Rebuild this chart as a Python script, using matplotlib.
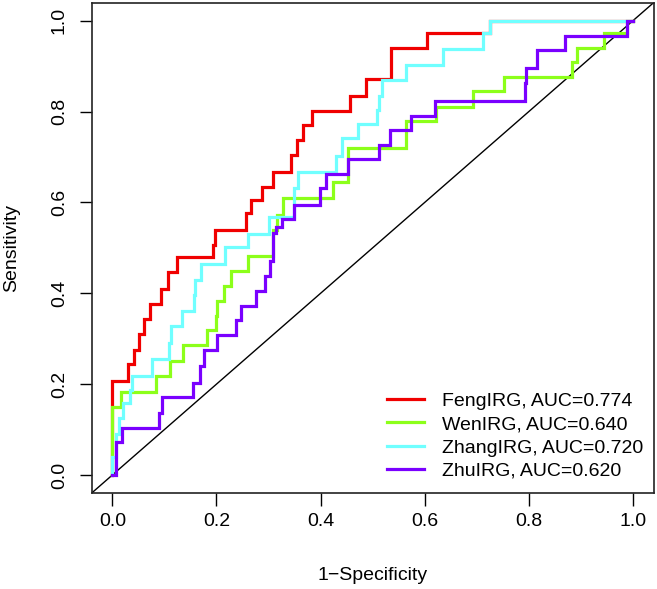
import matplotlib
matplotlib.use("Agg")
import matplotlib.pyplot as plt

plt.rcParams['font.family'] = ['Liberation Sans', 'DejaVu Sans']

# ---- data (vertices of the ROC staircases: at fpr[i] the curve rises to tpr[i]) ----
feng_fpr = [0, 0, 0.030, 0.042, 0.052, 0.061, 0.073, 0.094, 0.106, 0.125,
            0.193, 0.197, 0.257, 0.266, 0.287, 0.308, 0.343, 0.355, 0.366, 0.383,
            0.457, 0.487, 0.535, 0.604, 0.725, 1.0]
feng_tpr = [0, 0.208, 0.244, 0.275, 0.310, 0.343, 0.376, 0.410, 0.447, 0.479,
            0.506, 0.539, 0.576, 0.605, 0.635, 0.668, 0.704, 0.737, 0.770, 0.801,
            0.835, 0.872, 0.939, 0.972, 1.0, 1.0]

wen_fpr = [0, 0, 0.016, 0.083, 0.111, 0.136, 0.181, 0.199, 0.202, 0.215,
           0.227, 0.261, 0.308, 0.316, 0.327, 0.424, 0.453, 0.565, 0.622, 0.692,
           0.752, 0.882, 0.893, 0.944, 0.988, 1.0]
wen_tpr = [0, 0.150, 0.183, 0.219, 0.252, 0.286, 0.319, 0.350, 0.382, 0.415,
           0.449, 0.481, 0.539, 0.572, 0.609, 0.646, 0.719, 0.780, 0.809, 0.846,
           0.875, 0.908, 0.939, 0.972, 1.0, 1.0]

zhang_fpr = [0, 0, 0.008, 0.013, 0.021, 0.034, 0.038, 0.077, 0.109, 0.113,
             0.133, 0.156, 0.159, 0.170, 0.216, 0.261, 0.300, 0.349, 0.357, 0.430,
             0.442, 0.471, 0.509, 0.513, 0.517, 0.564, 0.636, 0.711, 0.725, 1.0]
zhang_tpr = [0, 0.040, 0.090, 0.125, 0.158, 0.187, 0.219, 0.255, 0.290, 0.328,
             0.360, 0.396, 0.429, 0.464, 0.501, 0.531, 0.567, 0.631, 0.668, 0.703,
             0.741, 0.773, 0.803, 0.835, 0.870, 0.903, 0.938, 0.972, 1.0, 1.0]

zhu_fpr = [0, 0.008, 0.018, 0.090, 0.095, 0.154, 0.168, 0.177, 0.201, 0.237,
           0.247, 0.276, 0.293, 0.303, 0.308, 0.314, 0.325, 0.348, 0.399, 0.410,
           0.452, 0.513, 0.533, 0.574, 0.620, 0.793, 0.795, 0.816, 0.869, 0.989, 1.0]
zhu_tpr = [0, 0.072, 0.103, 0.136, 0.171, 0.202, 0.240, 0.275, 0.308, 0.341,
           0.372, 0.404, 0.437, 0.470, 0.532, 0.545, 0.564, 0.594, 0.631, 0.663,
           0.695, 0.726, 0.759, 0.791, 0.824, 0.862, 0.895, 0.936, 0.966, 1.0, 1.0]

labels = ["FengIRG, AUC=0.774", "WenIRG, AUC=0.640",
          "ZhangIRG, AUC=0.720", "ZhuIRG, AUC=0.620"]
colors = ["#F00000", "#8CFF1A", "#70FFFF", "#7A00FF"]
ticks = [0.0, 0.2, 0.4, 0.6, 0.8, 1.0]
tick_labels = ["0.0", "0.2", "0.4", "0.6", "0.8", "1.0"]

W, H = 657, 589
fig = plt.figure(figsize=(W / 100, H / 100), dpi=100)
ax = fig.add_axes([91.5 / W, (H - 493.2) / H, (653.8 - 91.5) / W, (493.2 - 2.5) / H])

ax.set_xlim(-0.04, 1.04)
ax.set_ylim(-0.04, 1.04)

# diagonal reference line
ax.axline((0, 0), (1, 1), color="black", lw=1.0, zorder=1)

series = [(feng_fpr, feng_tpr), (wen_fpr, wen_tpr),
          (zhang_fpr, zhang_tpr), (zhu_fpr, zhu_tpr)]
for (fx, fy), c, lab in zip(series, colors, labels):
    ax.plot(fx, fy, drawstyle="steps-post", color=c, lw=2.3, label=lab,
            solid_joinstyle="miter", zorder=2)

ax.set_xticks(ticks)
ax.set_xticklabels(tick_labels)
ax.set_yticks(ticks)
ax.set_yticklabels(tick_labels, rotation=90, va="center")
ax.tick_params(axis="both", direction="out", length=9, width=1.0,
               labelsize=14, colors="black")
ax.tick_params(axis="x", pad=5)
ax.tick_params(axis="y", pad=8)
ax.tick_params(top=False, right=False)
for sp in ax.spines.values():
    sp.set_linewidth(1.2)
    sp.set_color("#222222")

fig.text(((91.5 + 653.8) / 2) / W, 1 - 576 / H, "1\u2212Specificity",
         ha="center", va="center", fontsize=14)
fig.text(11.7 / W, 1 - 247.8 / H, "Sensitivity", ha="center", va="center",
         rotation=90, fontsize=14)

leg = ax.legend(loc="lower right", bbox_to_anchor=(0.981, 0.027), frameon=False,
                fontsize=14, borderpad=0, borderaxespad=0, handlelength=1.9,
                handletextpad=0.9, labelspacing=0.3)
for line in leg.get_lines():
    line.set_linewidth(2.3)

fig.savefig("out.png", dpi=100)
